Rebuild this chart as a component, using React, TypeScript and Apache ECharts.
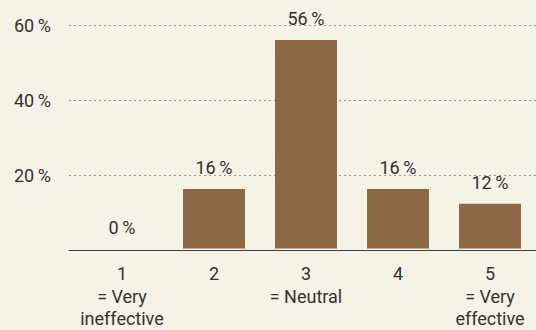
import React, { useEffect, useRef } from "react";
import * as echarts from "echarts";

const categories = ["1\n= Very\nineffective", "2", "3\n= Neutral", "4", "5\n= Very\neffective"];
const shares = [0, 16, 56, 16, 12];
const yTicks = [0, 20, 40, 60];

const BG = "#f5f2e6";
const BAR = "#8c6845";
const TEXT = "#333333";
const FONT = "Roboto, 'Noto Sans', sans-serif";
const FONT_SIZE = 18;

export default function App() {
  const ref = useRef<HTMLDivElement>(null);

  useEffect(() => {
    if (!ref.current) return;
    const chart = echarts.init(ref.current, undefined, { renderer: "svg" });
    const yMax = yTicks[yTicks.length - 1];
    const yStep = yTicks[1] - yTicks[0];
    chart.setOption({
      animation: false,
      backgroundColor: BG,
      textStyle: { fontFamily: FONT },
      grid: [
        { left: 69, right: 0, top: 25, bottom: 80 },
        { left: 76, right: 0, top: 25, bottom: 80 },
      ],
      xAxis: [
        {
          gridIndex: 0,
          type: "value",
          min: 0,
          max: 1,
          axisLine: { show: true, lineStyle: { color: "#3a3f44", width: 1 } },
          axisTick: { show: false },
          axisLabel: { show: false },
          splitLine: { show: false },
        },
        {
          gridIndex: 1,
          type: "category",
          data: categories,
          axisLine: { show: false },
          axisTick: { show: false },
          axisLabel: {
            color: TEXT,
            fontSize: FONT_SIZE,
            fontFamily: FONT,
            lineHeight: 22.5,
            margin: 14,
            interval: 0,
          },
        },
      ],
      yAxis: [
        {
          gridIndex: 0,
          type: "value",
          min: 0,
          max: yMax,
          interval: yStep,
          axisLine: { show: false },
          axisTick: { show: false },
          axisLabel: {
            color: TEXT,
            fontSize: FONT_SIZE,
            fontFamily: FONT,
            margin: 18,
            formatter: (v: number) => (v === 0 ? "" : `${v}\u2009%`),
          },
          splitLine: {
            show: true,
            lineStyle: { color: "#9a9a9a", type: [2, 3], width: 1 },
          },
        },
        {
          gridIndex: 1,
          type: "value",
          min: 0,
          max: yMax,
          interval: yStep,
          show: false,
        },
      ],
      series: [
        {
          type: "bar",
          xAxisIndex: 1,
          yAxisIndex: 1,
          data: shares,
          barWidth: 62,
          itemStyle: { color: BAR },
          label: {
            show: true,
            position: "top",
            distance: 12,
            color: TEXT,
            fontSize: FONT_SIZE,
            fontFamily: FONT,
            formatter: (p: any) => `${p.value}\u2009%`,
          },
        },
      ],
    });
    return () => chart.dispose();
  }, []);

  return (
    <div
      ref={ref}
      style={{ position: "fixed", left: 0, top: 0, width: 536, height: 330 }}
    />
  );
}
